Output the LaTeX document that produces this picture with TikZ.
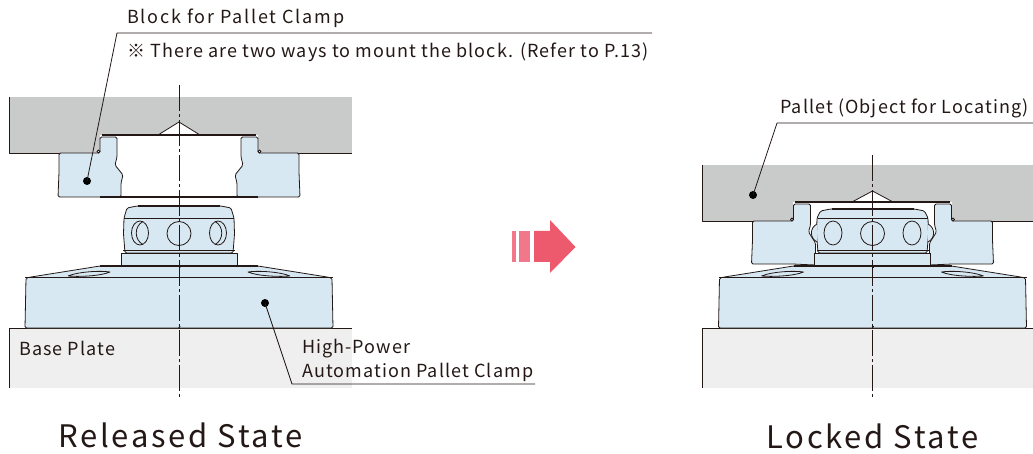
\documentclass[tikz,border=0pt]{standalone}
\usepackage{fontspec}
\setmainfont{Noto Sans CJK JP}
\newfontfamily\labelfont[LetterSpace=6]{Noto Sans CJK JP}
\newfontfamily\headfont[LetterSpace=10]{Noto Sans CJK JP}
\newfontfamily\captionfont[LetterSpace=9]{Noto Sans CJK JP}
\definecolor{inkline}{HTML}{231815}
\definecolor{palletgray}{HTML}{C9CACA}
\definecolor{plategray}{HTML}{EFEFEF}
\definecolor{clampblue}{HTML}{D7E8F3}
\definecolor{arrowred}{HTML}{EE5A6D}
\definecolor{arrowpale}{HTML}{F0788A}
\tikzset{
    part/.style={draw=inkline,line width=0.8pt,line join=round},
    blue part/.style={part,fill=clampblue,rounded corners=1.5pt},
    leader/.style={draw=inkline,line width=0.8pt},
    dot/.style={circle,fill=black,inner sep=0pt,minimum size=8pt},
    callout/.style={anchor=base west,inner sep=0pt,text=inkline,font=\labelfont\fontsize{18}{20}\selectfont},
    head callout/.style={callout,font=\headfont\fontsize{18}{20}\selectfont},
    title/.style={anchor=base west,inner sep=0pt,text=inkline,font=\captionfont\fontsize{31}{36}\selectfont},
    axis/.style={draw=inkline,line width=0.7pt,dash pattern=on 26pt off 3pt on 3pt off 3pt}
}
\begin{document}
\begin{tikzpicture}[x=1pt,y=-1pt]
    \useasboundingbox (0,0) rectangle (1033,454);

    % pallets and base plates
    \fill[palletgray] (  9, 97) rectangle ( 352,153);
    \fill[palletgray] (702,165) rectangle (1033,221);
    \fill[plategray]  (  9,328) rectangle ( 352,388);
    \fill[plategray]  (702,328) rectangle (1033,388);
    \draw[part] (  9, 97) -- (  9,153) -- (100,153);
    \draw[part] (258,153) -- (352,153);
    \draw[part] (702,165) -- (702,221) -- (793,221);
    \draw[part] (952,221) -- (1033,221);
    \draw[part] (  9,388) -- (  9,328) -- (352,328);
    \draw[part] (702,388) -- (702,328) -- (1033,328);

    % recess with its cone
    \fill[white] (100,135) rectangle (258,153);
    \fill[white] (793,202) rectangle (952,221);
    \draw[part,fill=white] (158,135) -- (179,122) -- (200,135);
    \draw[part,fill=white] (852,202) -- (872.5,191) -- (893,202);

    % block, released
    \foreach \s in {1,-1} {
        \begin{scope}[shift={(179,0)},xscale=\s]
            \draw[blue part] (62,137) -- (79,137) -- (79,153) -- (120,153) -- (120,172) -- (121,197)
                -- (58,197) -- (58,183) -- (56,175) -- (64,165) -- (62,157) -- cycle;
            \draw[part,fill=white] (80.5,151.5) circle (1.5);
        \end{scope}
    }
    \draw[part,line width=1.1pt] (102,135) -- (256,135);
    \draw[part,line width=1.1pt] (100,197) -- (258,197);

    % block, locked
    \foreach \s in {1,-1} {
        \begin{scope}[shift={(872.5,0)},xscale=\s]
            \draw[blue part] (62,204) -- (79,204) -- (79,221) -- (120,221) -- (120,240) -- (121,264)
                -- (80,264) -- (57,265) -- (57,243) -- (64,232) -- (62,225) -- cycle;
            \draw[part,fill=white] (80.5,219.5) circle (1.5);
        \end{scope}
    }
    \draw[part,line width=1.1pt] (795,202) -- (950,202);

    % clamp body and piston, both states
    \foreach \cx/\top/\wide in {179/206/55,872.5/209/55.5} {
        \foreach \s in {1,-1} {
            \begin{scope}[shift={(\cx,0)},xscale=\s]
                \draw[blue part] (-1,266) -- (79,266) -- (148,277) -- (153,278) -- (154,328) -- (-1,328) -- cycle;
                \draw[part,fill=clampblue] (111,276) .. controls (100,271.5) and (78,270.5) .. (69,272)
                    .. controls (78,276) and (100,277) .. (111,276);
                \draw[part,fill=clampblue] (-1,253) -- (58,253) -- (58,266) -- (-1,266);
                \draw[blue part,fill=clampblue] (-1,\top) -- (42,\top) -- (52,\top+2) -- (\wide,218) -- (\wide+0.5,234) -- (\wide-1,253) -- (-1,253);
            \end{scope}
        }
        \fill[clampblue] (\cx-50,\top+2) rectangle (\cx+50,252);
        \fill[clampblue] (\cx-50,255) rectangle (\cx+50,264);
        \fill[clampblue] (\cx-60,268) rectangle (\cx+60,326);
        \draw[part,line width=1.3pt] (\cx-41,\top) -- (\cx+41,\top);
        \draw[part] (\cx-55,218) -- (\cx+55,218);
        \draw[part] (\cx-56,250) -- (\cx+56,250);
        \draw[part] (\cx-58,253) -- (\cx+58,253);
        \draw[part,line width=1.2pt] (\cx-79,266) -- (\cx+79,266);
        \draw[part] (\cx-154,277) -- (\cx+154,277);
        \draw[part] (\cx,233.5) circle (12);
    }

    % ports, released and locked
    \foreach \s in {1,-1} {
        \begin{scope}[shift={(179,0)},xscale=\s]
            \draw[part] (39,233) ellipse (8.5 and 12);
            \draw[part] (36,221.5) .. controls (45,226) and (45,240) .. (36,244.5);
        \end{scope}
        \begin{scope}[shift={(872.5,0)},xscale=\s]
            \draw[part] (39.5,233) ellipse (9 and 12);
            \draw[part,fill=clampblue] (55.5,224) .. controls (63,228) and (63,238) .. (55.5,242);
        \end{scope}
    }

    % center lines
    \draw[axis] (179,85) -- (179,397);
    \draw[axis] (872.5,155) -- (872.5,398);

    % labels
    \node[head callout] (blocklabel) at (127,24) {Block for Pallet Clamp};
    \node[callout] (mountlabel)  at (127,58) {※ There are two ways to mount the block. (Refer to P.13)};
    \node[callout] (baselabel)   at ( 19,355) {Base Plate};
    \node[callout] (clamplabel)  at (302,353) {High-Power};
    \node[callout] (clamplabelb) at (302,377) {Automation Pallet Clamp};
    \node[callout] (palletlabel) at (780,114) {Pallet (Object for Locating)};
    \node[title]   (released)    at ( 58,447) {Released State};
    \node[title]   (locked)      at (766,448) {Locked State};

    % leaders
    \node[dot] (blockdot)  at ( 87,181) {};
    \node[dot] (clampdot)  at (265,303) {};
    \node[dot] (palletdot) at (753,195) {};
    \coordinate (blockbend)  at (117,33);
    \coordinate (blockend)   at (652,33);
    \coordinate (clampbend)  at (292,384);
    \coordinate (clampend)   at (535,384);
    \coordinate (palletbend) at (777,123);
    \coordinate (palletend)  at (1033,123);
    \draw[leader] (blockdot.center)  -- (blockbend)  -- (blockend);
    \draw[leader] (clampdot.center)  -- (clampbend)  -- (clampend);
    \draw[leader] (palletdot.center) -- (palletbend) -- (palletend);

    % arrow
    \fill[arrowpale] (512,231) rectangle (516,262);
    \fill[arrowpale] (519,231) rectangle (530,262);
    \fill[arrowred]  (534,231) -- (550,231) -- (550,220) -- (575.5,247) -- (550,273) -- (550,262) -- (534,262) -- cycle;
\end{tikzpicture}
\end{document}
